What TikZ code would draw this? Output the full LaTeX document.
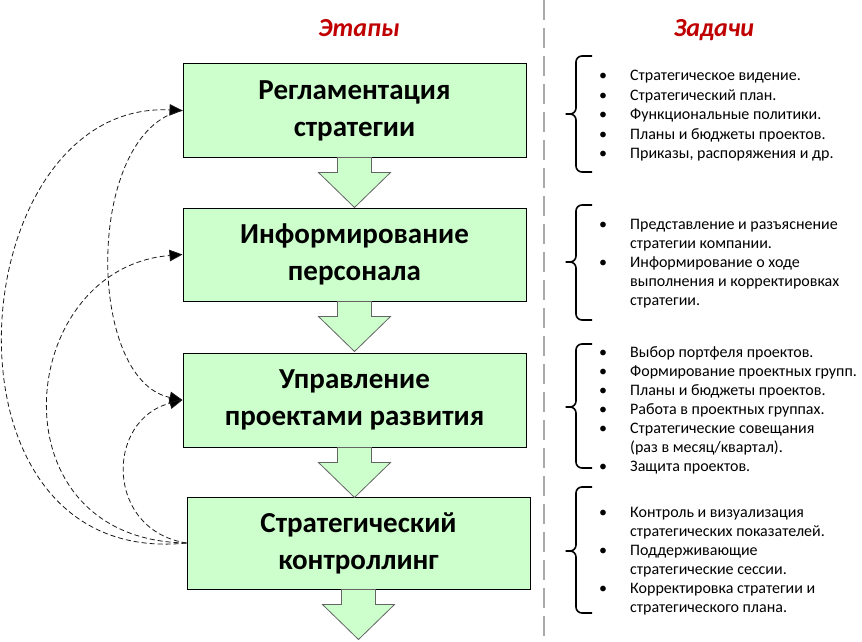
\documentclass[tikz,border=0pt]{standalone}
\usepackage{fontspec}
\setmainfont{Carlito}
\usetikzlibrary{arrows.meta}
\definecolor{boxgreen}{RGB}{204,255,204}
\definecolor{titlered}{RGB}{192,0,0}
\definecolor{divgray}{RGB}{170,170,170}
\definecolor{arrgray}{RGB}{100,100,100}
\begin{document}
\begin{tikzpicture}[x=1pt,y=-1pt,
 stage/.style={draw=black, line width=1pt, fill=boxgreen, inner sep=0pt, align=center,
   minimum width=343pt, minimum height=93pt, font=\fontsize{29}{37}\selectfont\bfseries},
 blockarr/.style={draw=arrgray, fill=boxgreen, line width=0.8pt},
 fb/.style={draw=black!90, line width=0.8pt, dash pattern=on 5pt off 3pt},
 tip/.style={-{Triangle[length=13pt,width=11.5pt,fill=black]}},
 title/.style={font=\fontsize{26}{30}\selectfont\bfseries\itshape, text=titlered, anchor=base, inner sep=0pt},
 item/.style={font=\fontsize{16}{19}\selectfont, anchor=base west, inner sep=0pt},
 bul/.style={font=\fontsize{16}{19}\selectfont, anchor=base, inner sep=0pt},
 bracestyle/.style={draw=black, line width=1.6pt, rounded corners=6pt},
 divider/.style={draw=divgray, line width=2pt, dash pattern=on 20pt off 8pt}]
\useasboundingbox (0,0) rectangle (862,642);

% divider
\coordinate (dtop) at (544,0);
\coordinate (dbot) at (544,642);
\draw[divider] (dtop) -- (dbot);

% titles
\node[title] (t1) at (359,37) {Этапы};
\node[title] (t2) at (714,37) {Задачи};

% stage boxes
\node[stage] (b1) at (354.5,110.5) {Регламентация\\стратегии};
\node[stage] (b2) at (354.5,254.5) {Информирование\\персонала};
\node[stage, minimum height=94pt] (b3) at (354.5,400) {Управление\\проектами развития};
\node[stage, minimum height=92pt] (b4) at (358.5,543) {Стратегический\\контроллинг};

% block arrows
\foreach \b in {b1,b2,b3,b4}{
  \draw[blockarr, shift={(\b.south)}] (-17,0) -- (17,0) -- (17,15) -- (36,15) -- (0,50) -- (-36,15) -- (-17,15) -- cycle;
}

% feedback curves
\draw[fb, tip] (b4.west) .. controls (105,530) and (105,420) .. (b3.west);
\draw[fb, tip] (b4.west) .. controls (-10,540) and (15,268) .. (b2.west);
\draw[fb, tip] (b4.west) .. controls (-75,570) and (-40,100) .. (b1.west);
\draw[fb, tip] (b1.west) .. controls (85,130) and (85,380) .. (b3.west);

% braces
\coordinate (br1t) at (592,56);
\coordinate (br1m) at (562,114);
\coordinate (br1b) at (592,172);
\draw[bracestyle] (br1t) -- (576,56) -- (576,114) -- (br1m) -- (576,114) -- (576,172) -- (br1b);
\coordinate (br2t) at (592,205);
\coordinate (br2m) at (562,262);
\coordinate (br2b) at (592,320);
\draw[bracestyle] (br2t) -- (576,205) -- (576,262) -- (br2m) -- (576,262) -- (576,320) -- (br2b);
\coordinate (br3t) at (592,344);
\coordinate (br3m) at (562,407);
\coordinate (br3b) at (592,468);
\draw[bracestyle] (br3t) -- (576,344) -- (576,407) -- (br3m) -- (576,407) -- (576,468) -- (br3b);
\coordinate (br4t) at (592,487);
\coordinate (br4m) at (562,551);
\coordinate (br4b) at (592,613);
\draw[bracestyle] (br4t) -- (576,487) -- (576,551) -- (br4m) -- (576,551) -- (576,613) -- (br4b);

% group 1
\node[bul] (g1b1) at (603,81) {•};
\node[item] (g1i1) at (630,81) {Стратегическое видение.};
\node[bul] (g1b2) at (603,100) {•};
\node[item] (g1i2) at (630,100) {Стратегический план.};
\node[bul] (g1b3) at (603,119) {•};
\node[item] (g1i3) at (630,119) {Функциональные политики.};
\node[bul] (g1b4) at (603,139) {•};
\node[item] (g1i4) at (630,139) {Планы и бюджеты проектов.};
\node[bul] (g1b5) at (603,158) {•};
\node[item] (g1i5) at (630,158) {Приказы, распоряжения и др.};

% group 2
\node[bul] (g2b1) at (603,229) {•};
\node[item] (g2i1a) at (630,229) {Представление и разъяснение};
\node[item] (g2i1b) at (630,248) {стратегии компании.};
\node[bul] (g2b2) at (603,267) {•};
\node[item] (g2i2a) at (630,267) {Информирование о ходе};
\node[item] (g2i2b) at (630,286) {выполнения и корректировках};
\node[item] (g2i2c) at (630,305) {стратегии.};

% group 3
\node[bul] (g3b1) at (603,357) {•};
\node[item] (g3i1) at (630,357) {Выбор портфеля проектов.};
\node[bul] (g3b2) at (603,376) {•};
\node[item] (g3i2) at (630,376) {Формирование проектных групп.};
\node[bul] (g3b3) at (603,395) {•};
\node[item] (g3i3) at (630,395) {Планы и бюджеты проектов.};
\node[bul] (g3b4) at (603,414) {•};
\node[item] (g3i4) at (630,414) {Работа в проектных группах.};
\node[bul] (g3b5) at (603,433) {•};
\node[item] (g3i5a) at (630,433) {Стратегические совещания};
\node[item] (g3i5b) at (630,452) {(раз в месяц/квартал).};
\node[bul] (g3b6) at (603,471) {•};
\node[item] (g3i6) at (630,471) {Защита проектов.};

% group 4
\node[bul] (g4b1) at (603,517) {•};
\node[item] (g4i1a) at (630,517) {Контроль и визуализация};
\node[item] (g4i1b) at (630,536) {стратегических показателей.};
\node[bul] (g4b2) at (603,555) {•};
\node[item] (g4i2a) at (630,555) {Поддерживающие};
\node[item] (g4i2b) at (630,574) {стратегические сессии.};
\node[bul] (g4b3) at (603,593) {•};
\node[item] (g4i3a) at (630,593) {Корректировка стратегии и};
\node[item] (g4i3b) at (630,612) {стратегического плана.};
\end{tikzpicture}
\end{document}
